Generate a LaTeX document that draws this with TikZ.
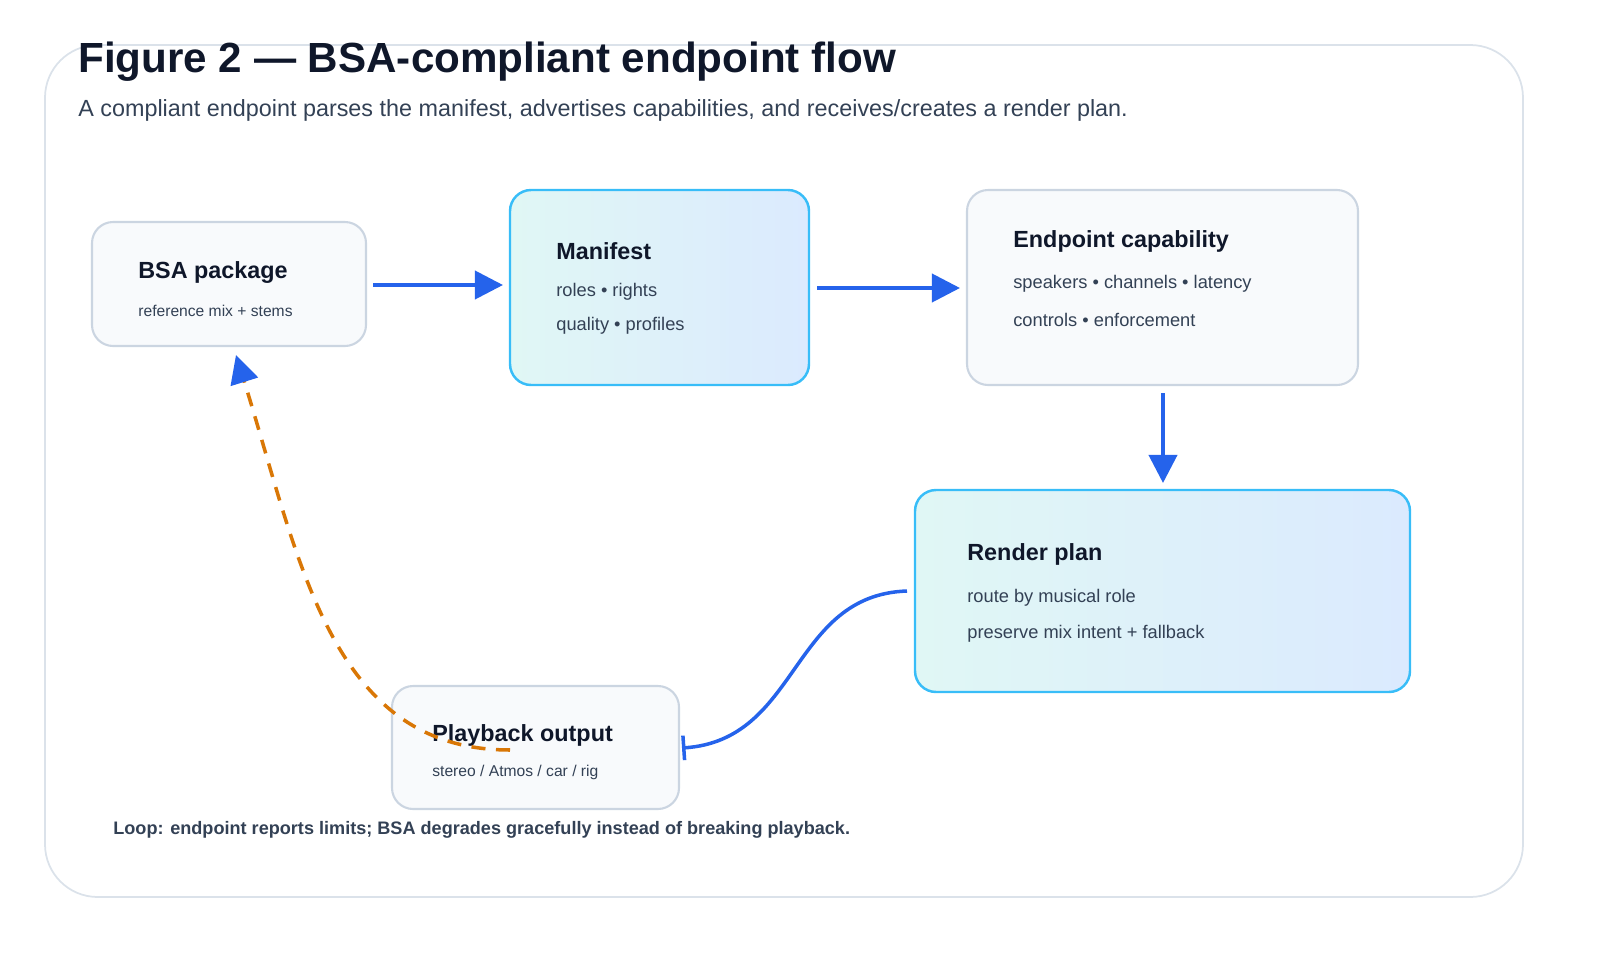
\documentclass[tikz,border=0pt]{standalone}
\usepackage{fontspec}
\setmainfont{Liberation Sans}
\usetikzlibrary{arrows.meta}
\definecolor{edge}{HTML}{CBD5E1}
\definecolor{paper}{HTML}{F8FAFC}
\definecolor{sky}{HTML}{38BDF8}
\definecolor{flow}{HTML}{2563EB}
\definecolor{loopc}{HTML}{D97706}
\definecolor{ink}{HTML}{0F172A}
\definecolor{soft}{HTML}{334155}
\definecolor{tealc}{HTML}{E0F7F5}
\definecolor{bluec}{HTML}{DBEAFE}
\tikzset{
  box/.style={draw=edge, line width=1.2pt, fill=paper, rounded corners=12pt},
  hot/.style={draw=sky, line width=1.4pt, rounded corners=12pt, left color=tealc, right color=bluec},
  head/.style={anchor=west, font=\fontsize{13.3}{15}\selectfont\bfseries, text=ink, inner sep=0},
  line/.style={anchor=west, font=\fontsize{10.4}{12}\selectfont, text=soft, inner sep=0},
  small/.style={anchor=west, font=\fontsize{8.9}{10}\selectfont, text=soft, inner sep=0},
  link/.style={draw=flow, line width=2.2pt, -{Triangle[length=16pt,width=16pt]}}
}
\begin{document}
\begin{tikzpicture}[x=0.02cm, y=-0.02cm]
        \useasboundingbox (0,0) rectangle (1600,960);
        \draw[edge!70, line width=1pt, rounded corners=30pt] (45,45) rectangle (1523,897);
        \node[anchor=west, inner sep=0, font=\fontsize{24}{28}\selectfont\bfseries, text=ink] (title) at (78,62) {Figure 2 — BSA-compliant endpoint flow};
        \node[anchor=west, inner sep=0, font=\fontsize{13.3}{16}\selectfont, text=soft] (subtitle) at (78,110) {A compliant endpoint parses the manifest, advertises capabilities, and receives/creates a render plan.};

        % boxes
        \draw[box] (92,222) rectangle (366,346);
        \draw[hot] (510,190) rectangle (809,385);
        \draw[box] (967,190) rectangle (1358,385);
        \draw[hot] (915,490) rectangle (1410,692);
        \draw[box] (392,686) rectangle (679,809);

        % texts
        \node[head] (pkg) at (138,273) {BSA package};
        \node[small] at (138,311) {reference mix + stems};
        \node[head] (man) at (556,251) {Manifest};
        \node[line] at (556,292) {roles • rights};
        \node[line] at (556,326) {quality • profiles};
        \node[head] (cap) at (1013,241) {Endpoint capability};
        \node[line] at (1013,284) {speakers • channels • latency};
        \node[line] at (1013,320) {controls • enforcement};
        \node[head] (plan) at (967,554) {Render plan};
        \node[line] at (967,598) {route by musical role};
        \node[line] at (967,634) {preserve mix intent + fallback};
        \node[head] (out) at (432,735) {Playback output};
        \node[small] at (432,772) {stereo / Atmos / car / rig};
        \node[anchor=west, inner sep=0, font=\fontsize{10.3}{12}\selectfont\bfseries, text=soft] (note) at (113,830) {Loop: endpoint reports limits; BSA degrades gracefully instead of breaking playback.};

        % anchors of connectors
        \coordinate (a1) at (373,285); \coordinate (a2) at (503,285);
        \coordinate (b1) at (817,288); \coordinate (b2) at (960,288);
        \coordinate (c1) at (1163,393); \coordinate (c2) at (1163,483);
        \coordinate (d1) at (907,591); \coordinate (d2) at (682,748);
        \coordinate (e1) at (510,750); \coordinate (e2) at (236,355);

        \draw[link] (a1) -- (a2);
        \draw[link] (b1) -- (b2);
        \draw[link] (c1) -- (c2);
        \draw[flow, line width=2pt, -{Bar[width=14pt]}] (d1) .. controls (790,595) and (800,740) .. (d2);
        \draw[loopc, line width=2pt, dash pattern=on 8pt off 6pt, -{Triangle[length=16pt,width=16pt,color=flow]}] (e1) .. controls (330,750) and (300,560) .. (e2);
\end{tikzpicture}
\end{document}
